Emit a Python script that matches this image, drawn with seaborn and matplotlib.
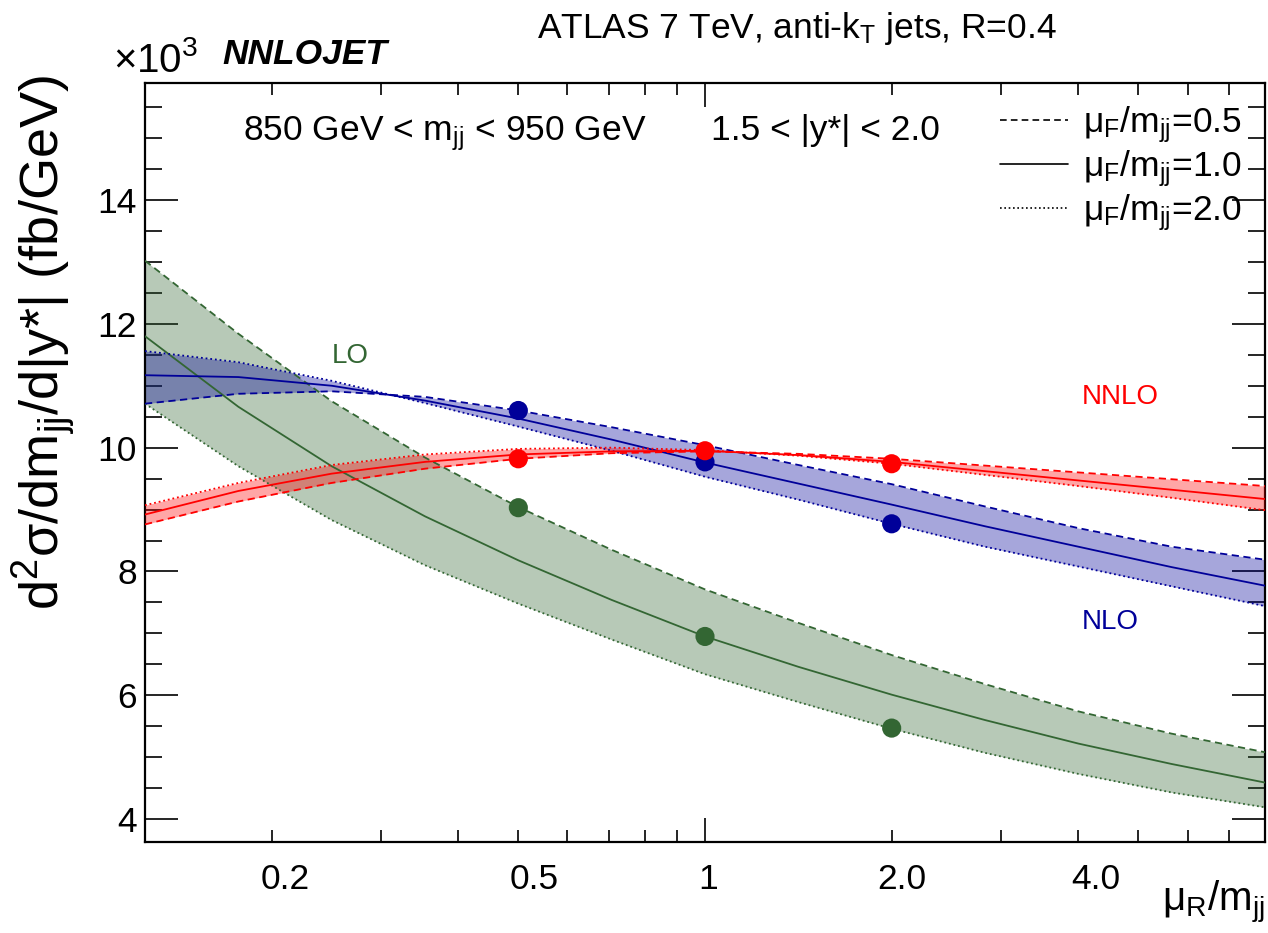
import matplotlib
matplotlib.use("Agg")
import matplotlib.pyplot as plt
import matplotlib.transforms as mtransforms
from matplotlib.lines import Line2D
from matplotlib.ticker import FixedLocator, FixedFormatter, NullFormatter, MultipleLocator
import pandas as pd
import seaborn as sns

# ---------------- data ----------------
mu_r = [0.125, 0.1768, 0.25, 0.3536, 0.5, 0.7071, 1.0, 1.4142, 2.0, 2.8284, 4.0, 5.6569, 8.0]

lo_muf05 = [13.02, 11.84, 10.75, 9.84, 9.04, 8.35, 7.71, 7.17, 6.65, 6.18, 5.74, 5.38, 5.08]
lo_muf10 = [11.80, 10.66, 9.70, 8.89, 8.18, 7.54, 6.95, 6.46, 6.01, 5.60, 5.22, 4.89, 4.59]
lo_muf20 = [10.71, 9.70, 8.83, 8.10, 7.48, 6.90, 6.34, 5.89, 5.46, 5.07, 4.73, 4.43, 4.19]

nlo_muf05 = [10.71, 10.87, 10.91, 10.82, 10.60, 10.33, 10.04, 9.72, 9.41, 9.05, 8.70, 8.40, 8.19]
nlo_muf10 = [11.17, 11.14, 11.00, 10.76, 10.47, 10.13, 9.76, 9.42, 9.08, 8.73, 8.40, 8.07, 7.77]
nlo_muf20 = [11.56, 11.38, 11.08, 10.72, 10.34, 9.95, 9.53, 9.16, 8.77, 8.40, 8.08, 7.76, 7.44]

nnlo_muf05 = [8.76, 9.13, 9.43, 9.66, 9.82, 9.91, 9.94, 9.90, 9.82, 9.71, 9.60, 9.49, 9.38]
nnlo_muf10 = [8.92, 9.30, 9.58, 9.77, 9.89, 9.94, 9.95, 9.88, 9.77, 9.62, 9.47, 9.32, 9.17]
nnlo_muf20 = [9.07, 9.43, 9.72, 9.89, 9.98, 10.00, 9.96, 9.87, 9.74, 9.56, 9.38, 9.19, 8.99]

point_mu = [0.5, 1.0, 2.0]
lo_points = [9.03, 6.95, 5.47]
nlo_points = [10.60, 9.77, 8.77]
nnlo_points = [9.82, 9.95, 9.74]

orders = ["LO", "NLO", "NNLO"]
muf_labels = ["0.5", "1.0", "2.0"]
x_tick_vals = [0.2, 0.5, 1.0, 2.0, 4.0]
x_tick_labels = ["0.2", "0.5", "1", "2.0", "4.0"]
x_minor_vals = [0.3, 0.4, 0.6, 0.7, 0.8, 0.9, 3.0, 5.0, 6.0, 7.0, 8.0]

# ---------------- styling ----------------
sns.set_theme(style="ticks")
plt.rcParams["font.family"] = ["Liberation Sans", "DejaVu Sans"]
plt.rcParams["mathtext.fontset"] = "custom"
plt.rcParams["mathtext.rm"] = "Liberation Sans"
plt.rcParams["mathtext.it"] = "Liberation Sans:italic"
plt.rcParams["mathtext.bf"] = "Liberation Sans:bold"
plt.rcParams["text.color"] = "black"
plt.rcParams["axes.labelcolor"] = "black"
plt.rcParams["xtick.color"] = "black"
plt.rcParams["ytick.color"] = "black"

colors = {"LO": "#336633", "NLO": "#000099", "NNLO": "#ff0000"}
W, H = 1268, 933
FS = 25.5

fig = plt.figure(figsize=(W / 100, H / 100), dpi=100)
ax = fig.add_axes([145 / W, 1 - 842 / H, (1265 - 145) / W, (842 - 83) / H])

curves = {
    "LO": [lo_muf05, lo_muf10, lo_muf20],
    "NLO": [nlo_muf05, nlo_muf10, nlo_muf20],
    "NNLO": [nnlo_muf05, nnlo_muf10, nnlo_muf20],
}
points = {"LO": lo_points, "NLO": nlo_points, "NNLO": nnlo_points}

rows = []
for order in orders:
    for lab, vals in zip(muf_labels, curves[order]):
        for x, y in zip(mu_r, vals):
            rows.append({"order": order, "muF": lab, "muR": x, "xs": y})
df = pd.DataFrame(rows)

prow = []
for order in orders:
    for x, y in zip(point_mu, points[order]):
        prow.append({"order": order, "muR": x, "xs": y})
dfp = pd.DataFrame(prow)

ax.set_xscale("log")

for i, order in enumerate(orders):
    c = colors[order]
    ax.fill_between(mu_r, curves[order][0], curves[order][2], color=c, alpha=0.35,
                    lw=0, zorder=1 + i)
    sub = df[df["order"] == order]
    sns.lineplot(data=sub, x="muR", y="xs", style="muF", style_order=muf_labels,
                 dashes={"0.5": (4, 2.5), "1.0": "", "2.0": (1, 1.6)},
                 color=c, lw=1.3, estimator=None, sort=False, legend=False,
                 ax=ax, zorder=4 + i)

sns.scatterplot(data=dfp, x="muR", y="xs", hue="order", hue_order=orders,
                palette=colors, s=190, edgecolor="none", legend=False, ax=ax,
                zorder=10)

ax.set_xlim(0.125, 8.0)
ax.set_ylim(3.63, 15.89)
ax.set_xlabel("")
ax.set_ylabel("")

ax.xaxis.set_major_locator(FixedLocator(x_tick_vals))
ax.xaxis.set_major_formatter(FixedFormatter(x_tick_labels))
ax.xaxis.set_minor_locator(FixedLocator(x_minor_vals))
ax.xaxis.set_minor_formatter(NullFormatter())
ax.yaxis.set_major_locator(MultipleLocator(2))
ax.yaxis.set_minor_locator(MultipleLocator(0.5))

ax.tick_params(axis="x", which="both", direction="in", top=True, bottom=True,
               length=8.5, width=1.2, color="black", labelsize=FS, pad=15,
               labelcolor="black")
ax.tick_params(axis="y", which="major", direction="in", left=True, right=True,
               length=24, width=1.2, color="black", labelsize=FS, pad=6,
               labelcolor="black")
ax.tick_params(axis="y", which="minor", direction="in", left=True, right=True,
               length=12, width=1.2, color="black")
for s in ax.spines.values():
    s.set_linewidth(1.6)
    s.set_color("black")

for t in ax.xaxis.get_major_ticks():
    if abs(t.get_loc() - 1.0) < 1e-6:
        t.tick1line.set_markersize(17)
        t.tick2line.set_markersize(17)

# ROOT-style slight rightward shift of the decimal log labels
shifts = {"0.2": 14, "0.5": 16, "1": 3, "2.0": 10, "4.0": 17}
fig.canvas.draw()
for lab in ax.get_xticklabels():
    dx = shifts.get(lab.get_text(), 0) / 100.0
    lab.set_transform(lab.get_transform() + mtransforms.ScaledTranslation(dx, 0, fig.dpi_scale_trans))

def ftext(x, y, s, **kw):
    fig.text(x / W, 1 - y / H, s, **kw)

ftext(113, 72, r"$\times$10$^{3}$", fontsize=29, va="baseline", ha="left")
ftext(222, 64, "NNLOJET", fontsize=FS, fontweight="bold", fontstyle="italic",
      va="baseline", ha="left")
ftext(537, 38, r"ATLAS 7 TeV, anti-k$_{\mathrm{T}}$ jets, R=0.4", fontsize=FS,
      va="baseline", ha="left")
ftext(243, 140, r"850 GeV < m$_{\mathrm{jj}}$ < 950 GeV", fontsize=FS,
      va="baseline", ha="left")
ftext(711, 140, r"1.5 < |y*| < 2.0", fontsize=FS, va="baseline", ha="left")

ftext(44, 75, r"d$^{2}$σ/dm$_{\mathrm{jj}}$/d|y*| (fb/GeV)", fontsize=39,
      rotation=90, ha="center", va="top")
ftext(1265, 903, r"μ$_{\mathrm{R}}$/m$_{\mathrm{jj}}$", fontsize=29,
      ha="right", va="center")

ftext(350, 356, "LO", fontsize=20, color=colors["LO"], ha="center", va="center")
ftext(1120, 397, "NNLO", fontsize=20, color=colors["NNLO"], ha="center", va="center")
ftext(1110, 622, "NLO", fontsize=20, color=colors["NLO"], ha="center", va="center")

handles = [Line2D([], [], color="black", lw=1.2, dashes=(4, 2.5)),
           Line2D([], [], color="black", lw=1.2),
           Line2D([], [], color="black", lw=1.2, dashes=(1, 1.6))]
labels = [r"μ$_{\mathrm{F}}$/m$_{\mathrm{jj}}$=" + m for m in muf_labels]
ax.legend(handles, labels, loc="upper left",
          bbox_to_anchor=(1000 / W, 1 - 104 / H), bbox_transform=fig.transFigure,
          frameon=False, fontsize=FS, handlelength=1.92, handletextpad=0.42,
          labelspacing=0.1, borderpad=0, borderaxespad=0)

fig.savefig("out.png", dpi=100)
